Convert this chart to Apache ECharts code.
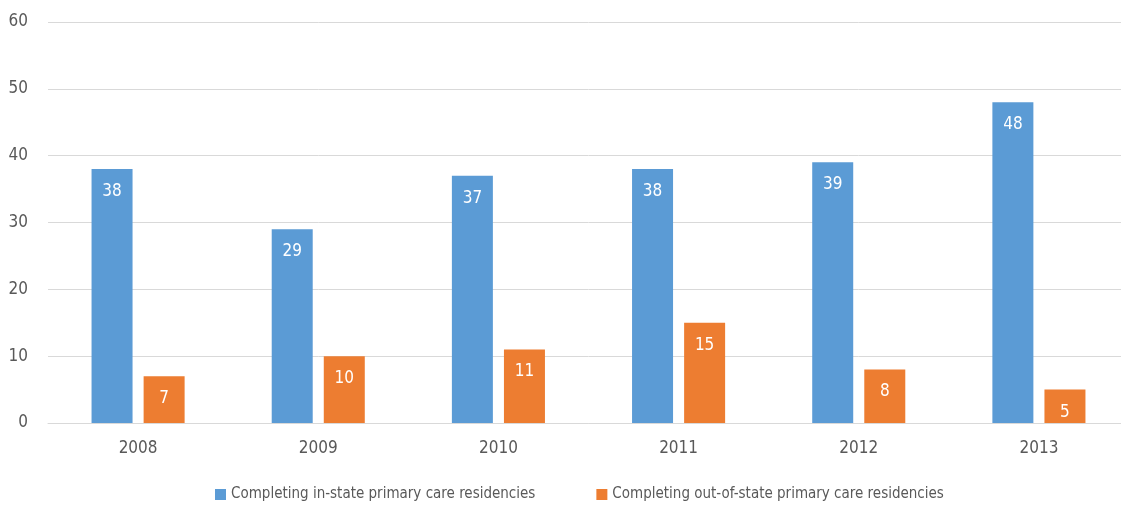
<!DOCTYPE html>
<html>
<head>
<meta charset="utf-8">
<script src="https://cdn.jsdelivr.net/npm/echarts@6/dist/echarts.min.js"></script>
<style>
  html, body { margin: 0; padding: 0; background: #fff; overflow: hidden; }
  /* the plot runs past the right edge of the page, so the canvas is a little wider than the window */
  #chart { width: 1132px; height: 506px; }
</style>
</head>
<body>
<div id="chart"></div>
<script>
// Graduates by year and where they completed primary care residency
const years = ['2008', '2009', '2010', '2011', '2012', '2013'];
const inState = [38, 29, 37, 38, 39, 48];
const outOfState = [7, 10, 11, 15, 8, 5];
const seriesNames = [
  'Completing in-state primary care residencies',
  'Completing out-of-state primary care residencies'
];

const FONT = '"Liberation Sans Narrow", "DejaVu Sans Condensed", sans-serif';
const TEXT = '#595959';

const labelStyle = {
  show: true,
  position: 'insideTop',
  distance: 14,
  color: '#ffffff',
  fontFamily: FONT,
  fontSize: 17
};

const chart = echarts.init(document.getElementById('chart'));
chart.setOption({
  animation: false,
  textStyle: { fontFamily: FONT },
  grid: { left: 48, top: 22, width: 1081, height: 401, containLabel: false },
  legend: {
    left: 210,
    top: 482,
    itemWidth: 11,
    itemHeight: 11,
    itemGap: 61,
    icon: 'rect',
    textStyle: { fontFamily: FONT, fontSize: 15, color: TEXT },
    data: seriesNames
  },
  xAxis: {
    type: 'category',
    data: years,
    axisLine: { show: true, lineStyle: { color: '#d9d9d9', width: 1 } },
    axisTick: { show: false },
    axisLabel: { color: TEXT, fontFamily: FONT, fontSize: 17, margin: 17 }
  },
  yAxis: {
    type: 'value',
    min: 0,
    max: 60,
    interval: 10,
    axisLine: { show: false },
    axisTick: { show: false },
    splitLine: { lineStyle: { color: '#d9d9d9', width: 1 } },
    axisLabel: { color: TEXT, fontFamily: FONT, fontSize: 17, margin: 20 }
  },
  series: [
    {
      name: seriesNames[0],
      type: 'bar',
      data: inState,
      barWidth: 41,
      barGap: '27%',
      itemStyle: { color: '#5B9BD5' },
      label: labelStyle
    },
    {
      name: seriesNames[1],
      type: 'bar',
      data: outOfState,
      barWidth: 41,
      barGap: '27%',
      itemStyle: { color: '#ED7D31' },
      label: labelStyle
    }
  ]
});
</script>
</body>
</html>
